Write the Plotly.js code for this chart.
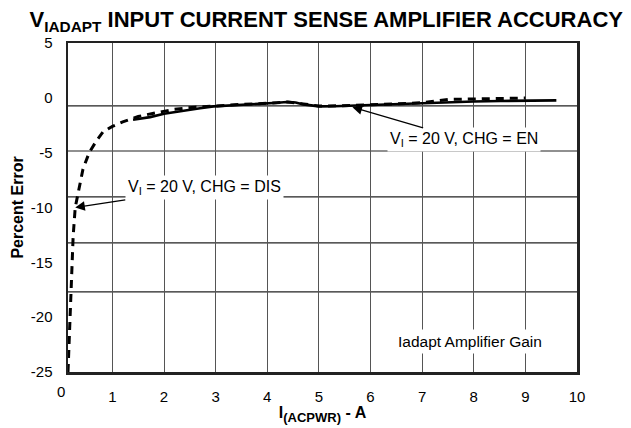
<!DOCTYPE html>
<html>
<head>
<meta charset="utf-8">
<script src="https://cdn.plot.ly/plotly-3.0.1.min.js"></script>
<style>html,body{margin:0;padding:0;background:#fff;}#chart{width:631px;height:428px;}</style>
</head>
<body>
<div id="chart"></div>
<script>
// Data
var xDis = [0.14, 0.16, 0.18, 0.20, 0.24, 0.28, 0.35, 0.43, 0.55, 0.68, 0.82, 1.0, 1.2, 1.5, 1.8, 2.2, 2.6, 3.0, 3.5, 4.0, 4.4, 4.7, 5.0, 5.6, 6.5, 7.0, 7.5, 8.5, 9.0];
var yDis = [-25, -22.5, -20, -16.5, -12.6, -10, -8.2, -6.5, -5, -4, -3.1, -2.6, -2.2, -1.7, -1.4, -1.05, -0.85, -0.72, -0.6, -0.5, -0.38, -0.55, -0.75, -0.7, -0.5, -0.45, -0.15, -0.05, -0.02];
var xEn = [1.4, 1.73, 2.0, 2.37, 2.7, 2.96, 3.3, 3.67, 4.0, 4.2, 4.38, 4.55, 4.7, 4.85, 5.0, 5.3, 5.61, 6.0, 6.58, 7.0, 7.55, 8.0, 8.52, 9.03, 9.6];
var yEn = [-2.0, -1.76, -1.45, -1.15, -0.95, -0.78, -0.7, -0.62, -0.53, -0.45, -0.38, -0.42, -0.6, -0.72, -0.78, -0.77, -0.72, -0.65, -0.53, -0.47, -0.38, -0.33, -0.29, -0.23, -0.23];
var xTickVals = [1, 2, 3, 4, 5, 6, 7, 8, 9, 10];
var xFirstTick = 0;
var yTickVals = [-25, -20, -15, -10, -5, 0, 5];
var hGridVals = [-0.74, -4.85, -9.04, -13.23, -17.7];

var xRange = [0.14, 10];
var yRange = [-25, 5];
var F = 'Liberation Sans, Arial, Helvetica, sans-serif';

var traces = [
  {x: xDis, y: yDis, mode: 'lines', line: {color: '#000', width: 3, dash: '8px,6px'}, hoverinfo: 'none'},
  {x: xEn, y: yEn, mode: 'lines', line: {color: '#000', width: 2.6}, hoverinfo: 'none'}
];

var gridShapes = hGridVals.map(function (v) {
  return {type: 'line', xref: 'paper', yref: 'y', x0: 0, x1: 1, y0: v, y1: v,
          layer: 'below', line: {color: '#222', width: 1.2}};
});

var layout = {
  width: 631, height: 428,
  margin: {l: 68, r: 54, t: 43, b: 56},
  paper_bgcolor: '#fff', plot_bgcolor: '#fff',
  showlegend: false,
  font: {family: F, color: '#000', size: 15},
  title: {
    text: '<b>V<sub>IADAPT</sub> INPUT CURRENT SENSE AMPLIFIER ACCURACY</b>',
    font: {family: F, size: 22, color: '#000'},
    xref: 'container', x: 0.517, xanchor: 'center',
    yref: 'container', y: 0.955, yanchor: 'middle'
  },
  xaxis: {
    range: xRange, tickvals: xTickVals, ticktext: xTickVals.map(String),
    showgrid: true, gridcolor: '#555', gridwidth: 1,
    zeroline: false, showline: true, mirror: true, linecolor: '#222', linewidth: 2.5,
    ticks: '', ticklabelstandoff: 9, tickfont: {size: 15, family: F},
    title: {text: '<b>I<sub><span style="font-size:13px">(ACPWR)</span></sub> - A</b>', font: {size: 16, family: F}, standoff: 2}
  },
  yaxis: {
    range: yRange, tickvals: yTickVals, ticktext: yTickVals.map(String),
    showgrid: false, zeroline: false, showline: true, mirror: true, linecolor: '#222', linewidth: 2.5,
    ticks: '', ticklabelstandoff: 10, tickfont: {size: 15, family: F},
    title: {text: '<b>Percent Error</b>', font: {size: 16, family: F}, standoff: 3}
  },
  shapes: gridShapes,
  annotations: [
    {xref: 'paper', yref: 'paper', x: (xFirstTick - xRange[0]) / (xRange[1] - xRange[0]), y: 0,
     yanchor: 'top', xanchor: 'center', yshift: -9, text: String(xFirstTick), showarrow: false,
     font: {size: 15, family: F}},
    {xref: 'x', yref: 'y', x: 0.28, y: -10.0, axref: 'x', ayref: 'y', ax: 2.78, ay: -8.22,
     text: 'V<sub>I</sub> = 20 V, CHG = DIS', showarrow: true, arrowhead: 2, arrowsize: 1.6, arrowwidth: 1.2,
     arrowcolor: '#000', bgcolor: '#fff', borderpad: 2, font: {size: 16, family: F}},
    {xref: 'x', yref: 'y', x: 5.65, y: -0.85, axref: 'x', ayref: 'y', ax: 7.81, ay: -3.84,
     text: 'V<sub>I</sub> = 20 V, CHG = EN', showarrow: true, arrowhead: 2, arrowsize: 1.6, arrowwidth: 1.2,
     arrowcolor: '#000', bgcolor: '#fff', borderpad: 2, font: {size: 16, family: F}},
    {xref: 'x', yref: 'y', x: 7.92, y: -22.2, text: 'Iadapt Amplifier Gain', showarrow: false,
     bgcolor: '#fff', borderpad: 3, font: {size: 15.5, family: F}}
  ]
};

Plotly.newPlot('chart', traces, layout, {staticPlot: true, displayModeBar: false});
</script>
</body>
</html>
